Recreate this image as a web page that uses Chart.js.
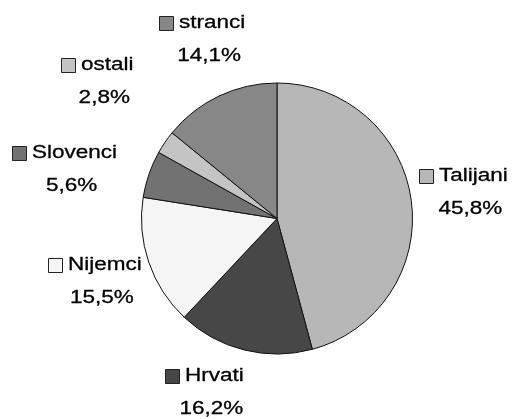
<!DOCTYPE html>
<html>
<head>
<meta charset="utf-8">
<script src="https://cdn.jsdelivr.net/npm/chart.js@4"></script>
<style>
  html, body { margin: 0; padding: 0; background: #fff; }
  #wrap { width: 514px; height: 419px; }
</style>
</head>
<body>
<div id="wrap"><canvas id="grafica" width="514" height="419"></canvas></div>
<script>
// podaci
var kategorije = ['Talijani', 'Hrvati', 'Nijemci', 'Slovenci', 'ostali', 'stranci'];
var postoci = [45.8, 16.2, 15.5, 5.6, 2.8, 14.1];
var oznake = ['45,8%', '16,2%', '15,5%', '5,6%', '2,8%', '14,1%'];

// izgled
var boje = ['#b7b7b7', '#474747', '#f5f5f5', '#727272', '#c4c4c4', '#878787'];
// pomak natpisa od osnovnog polozaja (px)
var pomakNatpisa = [[-2, -1], [-26, -11], [-2, 1], [-32, 13], [-22, -30], [7, -7]];

var natpisi = {
  id: 'natpisi',
  afterDatasetsDraw: function(chart) {
    var ctx = chart.ctx;
    var lukovi = chart.getDatasetMeta(0).data;
    ctx.save();
    ctx.font = '18px "Liberation Sans", Arial, sans-serif';
    ctx.textBaseline = 'middle';
    ctx.lineJoin = 'round';
    var sx = 1.25;

    function pisi(tekst, x, y, poravnanje) {
      ctx.save();
      ctx.translate(x, y);
      ctx.scale(sx, 1);
      ctx.textAlign = poravnanje;
      ctx.fillStyle = '#000';
      ctx.strokeStyle = '#000';
      ctx.lineWidth = 0.3;
      ctx.fillText(tekst, 0, 0);
      ctx.strokeText(tekst, 0, 0);
      ctx.restore();
    }

    lukovi.forEach(function(luk, i) {
      var p = luk.getProps(['x', 'y', 'startAngle', 'endAngle', 'outerRadius'], true);
      var sredina = (p.startAngle + p.endAngle) / 2;
      var d = p.outerRadius + 55;
      var cx = p.x + Math.cos(sredina) * d + pomakNatpisa[i][0];
      var cy = p.y + Math.sin(sredina) * d + pomakNatpisa[i][1];

      var kv = 14, razmak = 6;
      var wTekst = ctx.measureText(kategorije[i]).width * sx;
      var wCijeli = kv + razmak + wTekst;
      var x0 = Math.round(cx - wCijeli / 2);
      var y1 = cy - 16.5, y2 = cy + 16.5;

      // kvadratic legende
      var ky = Math.round(y1 - kv / 2);
      ctx.fillStyle = boje[i];
      ctx.fillRect(x0 + 0.5, ky + 0.5, kv, kv);
      ctx.strokeStyle = '#222';
      ctx.lineWidth = 1;
      ctx.strokeRect(x0 + 0.5, ky + 0.5, kv, kv);

      var tx = x0 + kv + razmak;
      pisi(kategorije[i], tx, y1, 'left');
      pisi(oznake[i], tx + wTekst / 2 - 3, y2, 'center');
    });
    ctx.restore();
  }
};

var ctx = document.getElementById('grafica').getContext('2d');
new Chart(ctx, {
  type: 'pie',
  data: {
    labels: kategorije,
    datasets: [{
      data: postoci,
      backgroundColor: boje,
      borderColor: '#111',
      borderWidth: 1
    }]
  },
  options: {
    responsive: false,
    animation: false,
    layout: { padding: { left: 141, right: 101, top: 82, bottom: 64 } },
    plugins: {
      legend: { display: false },
      tooltip: { enabled: false }
    }
  },
  plugins: [natpisi]
});
</script>
</body>
</html>
